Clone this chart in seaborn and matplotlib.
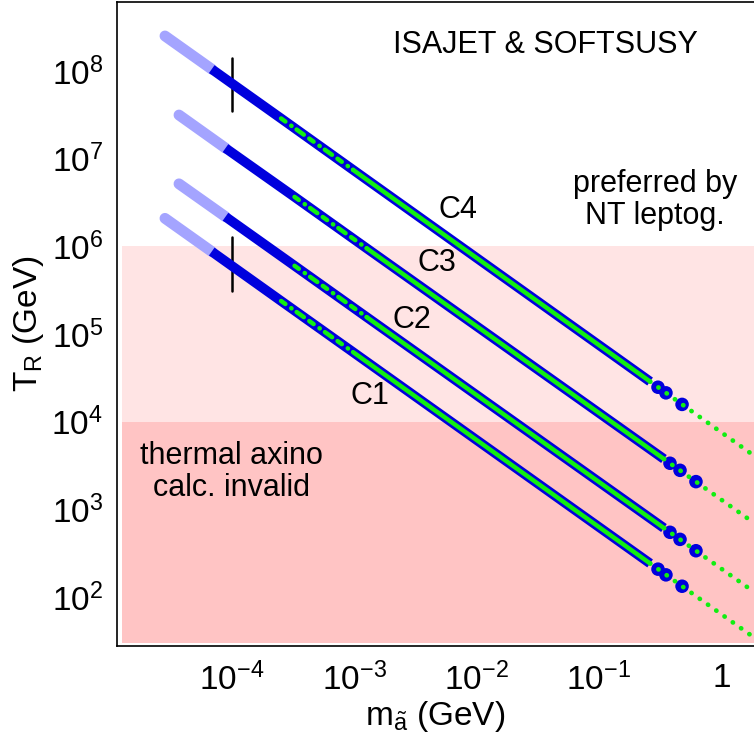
import numpy as np
import pandas as pd
import matplotlib
matplotlib.use("Agg")
import matplotlib.pyplot as plt
import seaborn as sns
from matplotlib.ticker import FixedLocator, FixedFormatter, NullLocator

# ---------------- data ----------------
curves = ["C1", "C2", "C3", "C4"]
# breakpoints: start, dark-start, green-start, green-solid-start, band-end, tail-end
m_c14 = [2.85e-5, 6.87e-5, 2.53e-4, 9.80e-4, 0.262, 2.07]
m_c23 = [3.71e-5, 8.90e-5, 3.26e-4, 1.27e-3, 0.340, 2.07]
T_c1 = [2.09e6, 8.74e5, 2.39e5, 6.24e4, 243, 31.1]
T_c2 = [5.17e6, 2.18e6, 6.02e5, 1.56e5, 615, 103]
T_c3 = [3.15e7, 1.32e7, 3.67e6, 9.50e5, 3.77e3, 630]
T_c4 = [2.51e8, 1.05e8, 2.88e7, 7.47e6, 2.88e4, 3.68e3]
# isolated blue points at the end of each band
dot_m_c14 = [0.304, 0.353, 0.478]
dot_m_c23 = [0.381, 0.460, 0.621]
dot_T_c1 = [209, 180, 133.5]
dot_T_c2 = [550, 457, 339]
dot_T_c3 = [3.37e3, 2.80e3, 2.08e3]
dot_T_c4 = [2.48e4, 2.14e4, 1.58e4]
# black markers at m = 1e-4
tick_m = [1e-4, 1e-4]
tick_T_c4 = [1.41e8, 3.52e7]
tick_T_c1 = [1.29e6, 3.13e5]
# shaded bands
band_light = [1e4, 1e6]
band_dark = [30, 1e4]
# labels
label_m = [1.35e-3, 2.97e-3, 4.75e-3, 7.06e-3]
label_T = [1.97e4, 1.45e5, 6.47e5, 2.60e6]
xticks = [1e-4, 1e-3, 1e-2, 1e-1, 1]
xticklabels = ["$10^{-4}$", "$10^{-3}$", "$10^{-2}$", "$10^{-1}$", "1"]
yticks = [1e2, 1e3, 1e4, 1e5, 1e6, 1e7, 1e8]
yticklabels = ["$10^{%d}$" % k for k in range(2, 9)]

# ---------------- style ----------------
sns.set_theme(style="white")
plt.rcParams["font.family"] = ["Liberation Sans", "DejaVu Sans"]
plt.rcParams["mathtext.fontset"] = "custom"
plt.rcParams["mathtext.rm"] = "Liberation Sans"
plt.rcParams["mathtext.it"] = "Liberation Sans:italic"
plt.rcParams["mathtext.bf"] = "Liberation Sans:bold"
plt.rcParams["mathtext.default"] = "regular"
plt.rcParams["text.color"] = "black"
plt.rcParams["axes.labelcolor"] = "black"

FS_TICK = 24
FS_LAB = 24
FS_TXT = 22
LIGHT_BLUE = "#a4a4ff"
BLUE = "#0000dd"
GREEN = "#11ee11"

fig = plt.figure(figsize=(7.54, 7.36), dpi=100)
ax = fig.add_axes([117 / 754, 90 / 736, 637 / 754, 644 / 736])
ax.set_xscale("log")
ax.set_yscale("log")
ax.set_xlim(1.156e-5, 1.85)
ax.set_ylim(27.8, 6.12e8)

# shading
ax.axhspan(band_light[0], band_light[1], xmin=0.008, xmax=1, color="#ffe4e4", lw=0, zorder=0)
ax.axhspan(band_dark[0], band_dark[1], xmin=0.008, xmax=1, color="#ffc4c4", lw=0, zorder=0)

# build tables
rows, dots = [], []
Ts = {"C1": T_c1, "C2": T_c2, "C3": T_c3, "C4": T_c4}
Ms = {"C1": m_c14, "C2": m_c23, "C3": m_c23, "C4": m_c14}
DT = {"C1": dot_T_c1, "C2": dot_T_c2, "C3": dot_T_c3, "C4": dot_T_c4}
DM = {"C1": dot_m_c14, "C2": dot_m_c23, "C3": dot_m_c23, "C4": dot_m_c14}
for c in curves:
    for i, (m, t) in enumerate(zip(Ms[c], Ts[c])):
        rows.append({"curve": c, "idx": i, "m": m, "T": t})
    for m, t in zip(DM[c], DT[c]):
        dots.append({"curve": c, "m": m, "T": t})
df = pd.DataFrame(rows)
dd = pd.DataFrame(dots)

def seg(a, b):
    return df[(df["idx"] >= a) & (df["idx"] <= b)]

common = dict(x="m", y="T", units="curve", estimator=None, sort=False, legend=False, ax=ax)
sns.lineplot(data=seg(0, 1), color=LIGHT_BLUE, lw=7.8, solid_capstyle="round", zorder=2, **common)
sns.lineplot(data=seg(1, 4), color=BLUE, lw=7.0, solid_capstyle="butt", zorder=3, **common)
sns.scatterplot(data=dd, x="m", y="T", color=BLUE, s=95, edgecolor="none", legend=False, ax=ax, zorder=3)
sns.lineplot(data=seg(2, 3), color=GREEN, lw=3.2, linestyle=(0, (1.2, 1.6, 0.1, 1.4, 2.0, 1.5)),
             dash_capstyle="round", zorder=4, **common)
sns.lineplot(data=seg(3, 4), color=GREEN, lw=3.2, solid_capstyle="round", zorder=4, **common)
sns.lineplot(data=seg(4, 5), color=GREEN, lw=3.4, linestyle=(0, (0.05, 2.1)),
             dash_capstyle="round", zorder=4, **common)

# black vertical markers
tk = pd.DataFrame({"m": tick_m + tick_m, "T": tick_T_c4 + tick_T_c1,
                   "curve": ["C4", "C4", "C1", "C1"]})
sns.lineplot(data=tk, color="black", lw=1.8, **common)

# labels
for name, m, t in zip(curves, label_m, label_T):
    ax.text(m, t, name, fontsize=FS_TXT, ha="center", va="center", zorder=6)
ax.text(0.0363, 1.98e8, "ISAJET & SOFTSUSY", fontsize=FS_TXT, ha="center", va="center")
ax.text(0.287, 3.38e6, "preferred by\nNT leptog.", fontsize=FS_TXT, ha="center", va="center",
        linespacing=1.1)
ax.text(1.0e-4, 2680, "thermal axino\ncalc. invalid", fontsize=FS_TXT, ha="center", va="center",
        linespacing=1.1)

# axes
ax.xaxis.set_major_locator(FixedLocator(xticks))
ax.xaxis.set_major_formatter(FixedFormatter(xticklabels))
ax.yaxis.set_major_locator(FixedLocator(yticks))
ax.yaxis.set_major_formatter(FixedFormatter(yticklabels))
ax.xaxis.set_minor_locator(NullLocator())
ax.yaxis.set_minor_locator(NullLocator())
ax.tick_params(axis="both", which="major", direction="in", length=6, width=1.0,
               labelsize=FS_TICK, colors="black")
ax.tick_params(axis="x", pad=12)
ax.tick_params(axis="y", pad=10)
ax.set_xlabel(r"m$_{\tilde{\mathrm{a}}}$ (GeV)", fontsize=FS_LAB, labelpad=1)
ax.set_ylabel(r"T$_{\mathrm{R}}$ (GeV)", fontsize=FS_LAB, labelpad=4)
for s in ["left", "bottom", "top"]:
    ax.spines[s].set_color("black")
    ax.spines[s].set_linewidth(1.2)
ax.spines["right"].set_visible(False)
ax.grid(False)

fig.savefig("out.png", dpi=100)
